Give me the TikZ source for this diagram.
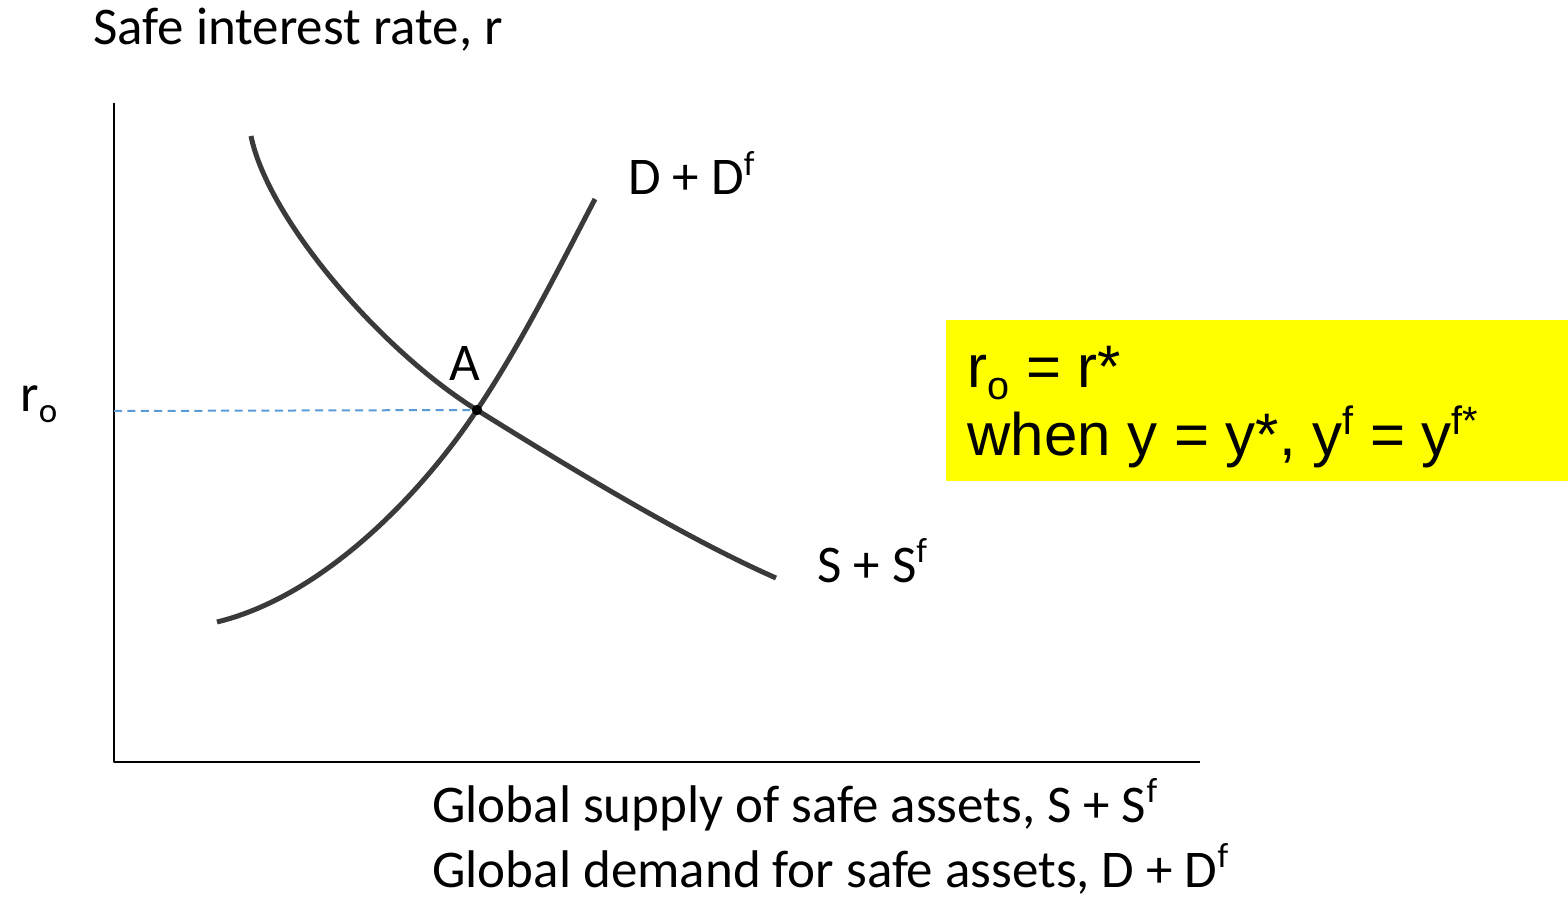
\documentclass[tikz,border=0pt]{standalone}
\usepackage{fontspec}
\setmainfont{Carlito}
\newfontfamily\boxfont{Liberation Sans}
\definecolor{Curve}{RGB}{58,58,58}
\definecolor{Dash}{RGB}{91,155,213}
\definecolor{Hilite}{RGB}{255,255,0}
\newcommand\suptxt[1]{\raisebox{0.36em}{\scalebox{0.66}{#1}}}
\newcommand\subtxt[1]{\raisebox{-0.2em}{\scalebox{0.66}{#1}}}

\begin{document}
\begin{tikzpicture}[x=0.5pt,y=-0.5pt,line cap=round,line join=round,
  lbl/.style={anchor=base west,inner sep=0pt,font=\fontsize{26.5}{30}\selectfont},
  boxlbl/.style={anchor=base west,inner sep=0pt,font=\boxfont\fontsize{30}{34}\selectfont},
  curve/.style={Curve,line width=2.5pt,line cap=butt}]
\path[use as bounding box] (0,0) rectangle (1568,897);
% axes
\coordinate (O) at (114,762);
\coordinate (ytop) at (114,103);
\coordinate (xend) at (1200,762);
\draw[line width=1.2pt,line cap=butt] (ytop) -- (O) -- (xend);
% equilibrium
\coordinate (A) at (477,410);
\coordinate (r0) at (114,411);
\draw[Dash,line width=1pt,line cap=butt,dash pattern=on 4pt off 2.7pt] (r0) -- (A);
% supply curve S + S^f
\coordinate (s0) at (251,136);
\coordinate (s1) at (776,578);
\draw[curve] (s0) .. controls (268,220) and (383,352) .. (A)
  .. controls (570,468) and (685,538) .. (s1);
% demand curve D + D^f
\coordinate (d0) at (217,622);
\coordinate (d1) at (595,199);
\draw[curve] (d0) .. controls (324,596) and (422,493) .. (A)
  .. controls (521,344) and (558,270) .. (d1);
\fill (A) circle[radius=2.6pt];
% labels
\node[lbl] (ylab) at (93,45) {Safe interest rate, r};
\node[lbl] (rlab) at (20,412) {r\subtxt{o}};
\node[lbl] (alab) at (449,381) {A};
\node[lbl] (dlab) at (628,195) {D + D\suptxt{f}};
\node[lbl] (slab) at (817,582) {S + S\suptxt{f}};
\node[lbl] (xlab1) at (432,822) {Global supply of safe assets, S + S\suptxt{f}};
\node[lbl,text depth=2pt] (xlab2) at (432,887) {Global demand for safe assets, D + D\suptxt{f}};
% highlight box
\fill[Hilite] (946,320) rectangle (1568,481);
\node[boxlbl] (note1) at (967,388) {r\subtxt{o} = r*};
\node[boxlbl] (note2) at (967,456) {when y = y*, y\suptxt{f} = y\suptxt{f*}};
\end{tikzpicture}
\end{document}
